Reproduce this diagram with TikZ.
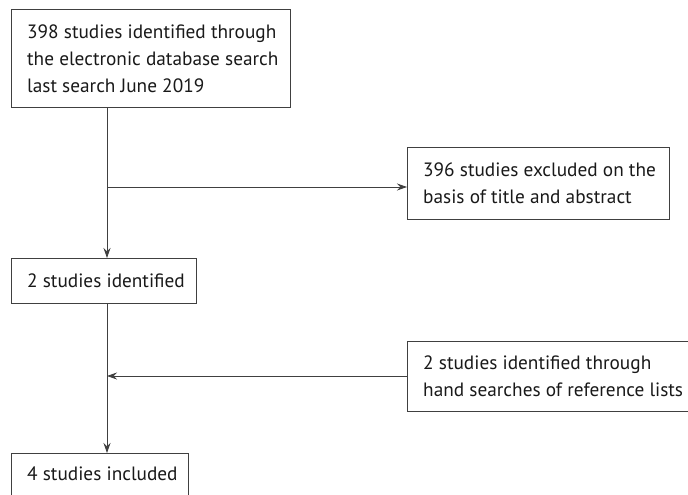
\documentclass[tikz,border=0pt]{standalone}
\usepackage{fontspec}
\setmainfont{PT Sans}
\usetikzlibrary{arrows.meta}
\begin{document}
\begin{tikzpicture}[x=1pt,y=-1pt,
  box/.style={draw=black!75, line width=0.8pt, anchor=north west, inner sep=0pt},
  txt/.style={anchor=west, inner sep=0pt, align=left, font=\fontsize{19.3}{27}\selectfont, text=black!90},
  conn/.style={draw=black!75, line width=0.8pt},
  arr/.style={conn, -{Stealth[length=10pt,width=7pt]}}]
\useasboundingbox (0,0) rectangle (688,495);
\node[box, minimum width=279pt, minimum height=98pt] (a) at (11,9) {};
\node[txt] (ta) at ([xshift=16pt]a.west)
  {398 studies identified through\\the electronic database search\\last search June 2019};
\node[box, minimum width=262pt, minimum height=72pt] (b) at (407,147) {};
\node[txt] (tb) at ([xshift=16pt]b.west)
  {396 studies excluded on the\\basis of title and abstract};
\node[box, minimum width=185pt, minimum height=45pt] (c) at (11,258) {};
\node[txt] (tc) at ([xshift=16pt]c.west) {2 studies identified};
\node[box, minimum width=300pt, minimum height=70pt] (d) at (407,341) {};
\node[txt] (td) at ([xshift=16pt]d.west)
  {2 studies identified through\\hand searches of reference lists};
\node[box, minimum width=177pt, minimum height=70pt] (e) at (11,453) {};
\node[txt] (te) at (27,474) {4 studies included};
\coordinate (j1) at (107,187);
\coordinate (j2) at (107,376);
\draw[arr] (a.south -| j1) -- (c.north -| j1);
\draw[arr] (j1) -- (b.west |- j1);
\draw[arr] (c.south -| j2) -- (e.north -| j2);
\draw[arr] (d.west |- j2) -- (j2);
\end{tikzpicture}
\end{document}
